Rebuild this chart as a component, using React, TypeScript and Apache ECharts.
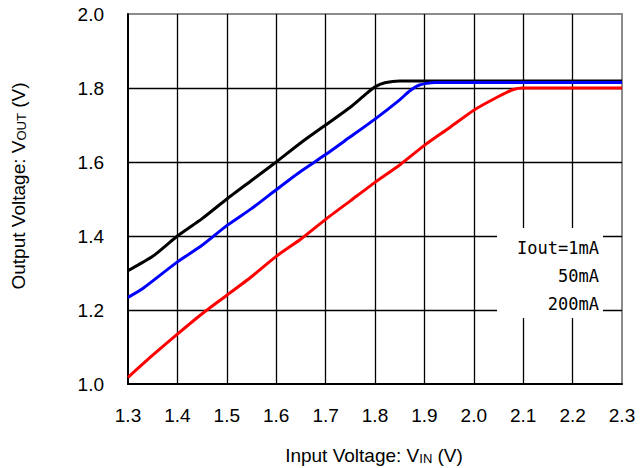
import React, { useEffect, useRef } from "react";
import * as echarts from "echarts";

// Input voltage (V) sample points and output voltage (V) for each load current
const vin1mA = [1.3, 1.35, 1.4, 1.45, 1.5, 1.55, 1.6, 1.65, 1.7, 1.75, 1.78, 1.8, 1.82, 1.85, 1.9, 2.0, 2.1, 2.2, 2.3];
const vout1mA = [1.306, 1.345, 1.4, 1.447, 1.5, 1.55, 1.6, 1.652, 1.7, 1.748, 1.782, 1.803, 1.814, 1.819, 1.819, 1.819, 1.819, 1.819, 1.819];

const vin50mA = [1.3, 1.33, 1.4, 1.45, 1.5, 1.55, 1.6, 1.65, 1.7, 1.75, 1.8, 1.85, 1.87, 1.89, 1.92, 2.0, 2.1, 2.2, 2.3];
const vout50mA = [1.234, 1.258, 1.33, 1.375, 1.428, 1.474, 1.525, 1.575, 1.62, 1.668, 1.716, 1.768, 1.792, 1.808, 1.815, 1.815, 1.815, 1.815, 1.815];

const vin200mA = [1.3, 1.35, 1.4, 1.45, 1.5, 1.55, 1.6, 1.65, 1.7, 1.75, 1.8, 1.85, 1.9, 1.95, 2.0, 2.05, 2.08, 2.1, 2.2, 2.3];
const vout200mA = [1.018, 1.078, 1.135, 1.19, 1.24, 1.29, 1.345, 1.392, 1.445, 1.495, 1.545, 1.592, 1.645, 1.692, 1.74, 1.777, 1.796, 1.8, 1.8, 1.8];

const legendLabels = ["Iout=1mA", "50mA", "200mA"];
const xTickFormat = (v: number) => v.toFixed(1);

const seriesDefs = [
  { name: "1mA", vin: vin1mA, vout: vout1mA, color: "#000000" },
  { name: "50mA", vin: vin50mA, vout: vout50mA, color: "#0000ff" },
  { name: "200mA", vin: vin200mA, vout: vout200mA, color: "#ff0000" },
];

export default function App() {
  const ref = useRef<HTMLDivElement>(null);

  useEffect(() => {
    document.body.style.margin = "0";
    if (!ref.current) return;
    const chart = echarts.init(ref.current, undefined, { renderer: "svg" });
    const labelFont = "'Liberation Sans', Arial, sans-serif";
    const legendFont = "'DejaVu Sans Mono', monospace";

    chart.setOption({
      animation: false,
      backgroundColor: "#ffffff",
      grid: {
        left: 128,
        right: 21,
        top: 14,
        bottom: 84,
        show: true,
        borderColor: "#8c8c8c",
        borderWidth: 2,
        backgroundColor: "transparent",
      },
      xAxis: {
        type: "value",
        min: 1.3,
        max: 2.3,
        interval: 0.1,
        axisLine: { show: true, lineStyle: { color: "#000", width: 2 } },
        axisTick: { show: false },
        axisLabel: {
          formatter: xTickFormat,
          color: "#000",
          fontSize: 19,
          fontFamily: labelFont,
          margin: 22,
        },
        splitLine: {
          show: true,
          showMinLine: false,
          showMaxLine: false,
          lineStyle: { color: "#000", width: 1.3 },
        },
      },
      yAxis: {
        type: "value",
        min: 1.0,
        max: 2.0,
        interval: 0.2,
        axisLine: { show: true, lineStyle: { color: "#000", width: 2 } },
        axisTick: { show: false },
        axisLabel: {
          formatter: (v: number) => v.toFixed(1),
          color: "#000",
          fontSize: 19,
          fontFamily: labelFont,
          margin: 24,
        },
        splitLine: {
          show: true,
          showMinLine: false,
          showMaxLine: false,
          lineStyle: { color: "#000", width: 1.3 },
        },
      },
      series: seriesDefs.map((s) => ({
        type: "line",
        name: s.name,
        data: s.vin.map((x, i) => [x, s.vout[i]]),
        showSymbol: false,
        symbol: "none",
        smooth: 0.2,
        lineStyle: { color: s.color, width: 3 },
        z: 3,
      })),
      graphic: [
        {
          type: "rect",
          z: 100,
          shape: { x: 497, y: 228, width: 106, height: 90 },
          style: { fill: "#ffffff" },
        },
        ...legendLabels.map((t, i) => ({
          type: "text",
          z: 101,
          x: 599,
          y: 248 + i * 28,
          style: {
            text: t,
            align: "right",
            verticalAlign: "middle",
            fontSize: 17,
            fontFamily: legendFont,
            fill: "#000",
          },
        })),
        {
          type: "text",
          z: 101,
          x: 374,
          y: 455,
          style: {
            text: "Input Voltage: V{s|IN} (V)",
            align: "center",
            verticalAlign: "middle",
            fontSize: 19,
            fontFamily: labelFont,
            fill: "#000",
            rich: {
              s: { fontSize: 13, fontFamily: labelFont, fill: "#000", verticalAlign: "bottom", padding: [6, 0, 0, 0] },
            },
          },
        },
        {
          type: "text",
          z: 101,
          x: 18,
          y: 186,
          rotation: Math.PI / 2,
          style: {
            text: "Output Voltage: V{s|OUT} (V)",
            align: "center",
            verticalAlign: "middle",
            fontSize: 19,
            fontFamily: labelFont,
            fill: "#000",
            rich: {
              s: { fontSize: 13, fontFamily: labelFont, fill: "#000", verticalAlign: "bottom", padding: [6, 0, 0, 0] },
            },
          },
        },
      ],
    });

    return () => chart.dispose();
  }, []);

  return <div ref={ref} style={{ width: 643, height: 468 }} />;
}
